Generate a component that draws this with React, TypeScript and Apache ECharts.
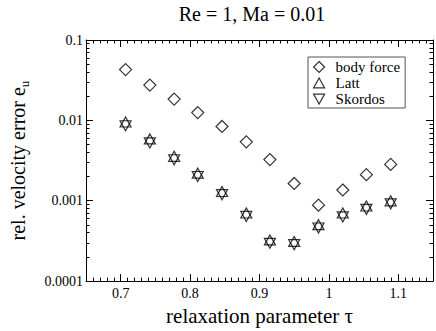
import React, { useEffect, useRef } from "react";
import * as echarts from "echarts";

const tau = [0.707, 0.742, 0.777, 0.811, 0.846, 0.881, 0.915, 0.95, 0.985, 1.02, 1.054, 1.089];
const bodyForce = [0.0428, 0.0275, 0.0184, 0.0125, 0.0084, 0.0054, 0.00325, 0.00164, 0.00088, 0.00136, 0.00211, 0.00283];
const latt = [0.0091, 0.0056, 0.0034, 0.0021, 0.00124, 0.00067, 0.00031, 0.000297, 0.00048, 0.00067, 0.00082, 0.00095];
const skordos = [0.009, 0.0055, 0.0034, 0.0021, 0.00125, 0.00067, 0.00031, 0.000298, 0.00048, 0.00066, 0.00082, 0.00096];

const xMajor = [0.7, 0.8, 0.9, 1.0, 1.1];
const yMajor = [0.0001, 0.001, 0.01, 0.1];
const yLabels = ["0.0001", "0.001", "0.01", "0.1"];

const xMinor: number[] = [];
for (let i = 66; i <= 114; i++) if (i % 10 !== 0) xMinor.push(i / 100);
const yMinor: number[] = [];
for (const d of [0.0001, 0.001, 0.01]) for (let k = 2; k <= 9; k++) yMinor.push(Number((k * d).toPrecision(3)));

const FONT = "Liberation Serif";

export default function App() {
  const ref = useRef<HTMLDivElement>(null);
  useEffect(() => {
    const chart = echarts.init(ref.current!, null, { renderer: "svg" });
    const grid = { left: 71, top: 40, width: 362, height: 252 };
    const line = { show: true, lineStyle: { color: "#000", width: 1 } };
    const mkX = (pos: string, ticks: number[], len: number, labels: boolean, lineShow: boolean, extra: any = {}) => ({
      type: "value",
      min: 0.65,
      max: 1.15,
      position: pos,
      axisLine: { ...line, show: lineShow },
      axisTick: { show: true, inside: true, length: len, customValues: ticks, lineStyle: { color: "#000", width: 1 } },
      axisLabel: labels
        ? {
            show: true,
            customValues: xMajor,
            formatter: (v: number) => String(Number(v.toFixed(2))),
            fontFamily: FONT,
            fontSize: 14,
            color: "#000",
            margin: 5,
          }
        : { show: false },
      splitLine: { show: false },
      ...extra,
    });
    const mkY = (pos: string, ticks: number[], len: number, labels: boolean, lineShow: boolean, extra: any = {}) => ({
      type: "log",
      logBase: 10,
      min: 0.0001,
      max: 0.1,
      position: pos,
      axisLine: { ...line, show: lineShow },
      axisTick: { show: true, inside: true, length: len, customValues: ticks, lineStyle: { color: "#000", width: 1 } },
      axisLabel: labels
        ? {
            show: true,
            customValues: yMajor,
            formatter: (v: number) => {
              let best = 0;
              for (let i = 0; i < yMajor.length; i++)
                if (Math.abs(Math.log10(v) - Math.log10(yMajor[i])) < Math.abs(Math.log10(v) - Math.log10(yMajor[best]))) best = i;
              return yLabels[best];
            },
            fontFamily: FONT,
            fontSize: 14,
            color: "#000",
            margin: 3,
          }
        : { show: false },
      splitLine: { show: false },
      ...extra,
    });
    const sym = { color: "rgba(0,0,0,0)", borderColor: "#000", borderWidth: 1.2 };
    chart.setOption({
      animation: false,
      backgroundColor: "#fff",
      grid,
      graphic: [
        {
          type: "text",
          x: 252,
          y: 14,
          style: { text: "Re = 1, Ma = 0.01", fontFamily: FONT, fontSize: 20, fill: "#000", align: "center", verticalAlign: "middle" },
        },
      ],
      legend: {
        left: 308,
        top: 57,
        orient: "vertical",
        padding: [2, 5, 1, 5],
        itemWidth: 11,
        itemHeight: 11,
        itemGap: 0,
        borderColor: "#555",
        borderWidth: 1,
        textStyle: { fontFamily: FONT, fontSize: 15, color: "#000", lineHeight: 16, padding: [0, 0, 0, 6] },
        data: [
          { name: "body force", icon: "path://M5,0L10,5L5,10L0,5Z", itemStyle: sym },
          { name: "Latt", icon: "path://M5,0L10,9L0,9Z", itemStyle: sym },
          { name: "Skordos", icon: "path://M0,0L10,0L5,9Z", itemStyle: sym },
        ],
      },
      xAxis: [
        mkX("bottom", xMajor, 7, true, true, {
          name: "relaxation parameter τ",
          nameLocation: "middle",
          nameGap: 17,
          nameTextStyle: { fontFamily: FONT, fontSize: 21, color: "#000" },
        }),
        mkX("bottom", xMinor, 3.5, false, false),
        mkX("top", xMajor, 7, false, true),
        mkX("top", xMinor, 3.5, false, false),
      ],
      yAxis: [
        mkY("left", yMajor, 7, true, true, {
          name: "{m|rel. velocity error e}{sub|u}",
          nameLocation: "middle",
          nameGap: 55,
          nameTextStyle: {
            fontFamily: FONT,
            fontSize: 20,
            color: "#000",
            rich: {
              m: { fontFamily: FONT, fontSize: 20, color: "#000", verticalAlign: "bottom", padding: [0, 0, 3, 0] },
              sub: { fontFamily: FONT, fontSize: 13, color: "#000", verticalAlign: "bottom" },
            },
          },
        }),
        mkY("left", yMinor, 3.5, false, false),
        mkY("right", yMajor, 7, false, true),
        mkY("right", yMinor, 3.5, false, false),
      ],
      series: [
        {
          name: "body force",
          type: "scatter",
          symbol: "diamond",
          symbolSize: 12,
          itemStyle: sym,
          data: tau.map((t, i) => [t, bodyForce[i]]),
        },
        {
          name: "Latt",
          type: "scatter",
          symbol: "triangle",
          symbolSize: [11, 10],
          symbolOffset: [0, -1.7],
          itemStyle: sym,
          data: tau.map((t, i) => [t, latt[i]]),
        },
        {
          name: "Skordos",
          type: "scatter",
          symbol: "triangle",
          symbolRotate: 180,
          symbolSize: [11, 10],
          symbolOffset: [0, 1.7],
          itemStyle: sym,
          data: tau.map((t, i) => [t, skordos[i]]),
        },
      ],
    });
    return () => chart.dispose();
  }, []);
  return <div ref={ref} style={{ position: "fixed", left: 0, top: 0, width: 436, height: 331 }} />;
}
